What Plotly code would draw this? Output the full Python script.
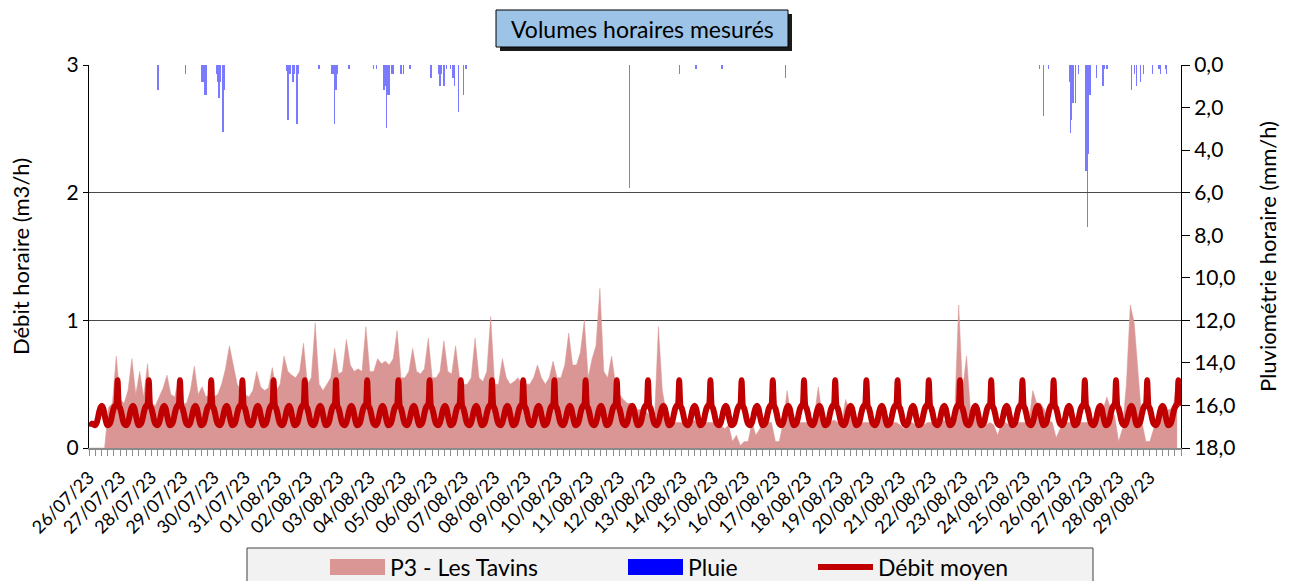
import numpy as np
import pandas as pd
import plotly.graph_objects as go

START = "2023-07-26 00:00"
END = "2023-08-30 00:00"

# P3 - Les Tavins : hourly volumes read at 3-hour steps (00h,03h,...,21h), one row per day
p3_by_day = [
    [0, 0, 0, 0, 0, 0.32, 0.35, 0.72],          # 26/07
    [0.38, 0.35, 0.45, 0.70, 0.42, 0.60, 0.40, 0.66],
    [0.35, 0.33, 0.40, 0.47, 0.57, 0.42, 0.40, 0.55],
    [0.35, 0.35, 0.45, 0.64, 0.42, 0.48, 0.40, 0.42],
    [0.40, 0.42, 0.50, 0.62, 0.80, 0.65, 0.50, 0.45],
    [0.42, 0.40, 0.45, 0.60, 0.48, 0.45, 0.47, 0.63],  # 31/07
    [0.45, 0.50, 0.72, 0.60, 0.57, 0.55, 0.60, 0.82],
    [0.50, 0.55, 0.98, 0.50, 0.45, 0.50, 0.55, 0.78],
    [0.58, 0.60, 0.85, 0.65, 0.60, 0.62, 0.60, 0.95],
    [0.60, 0.60, 0.70, 0.66, 0.68, 0.65, 0.70, 0.92],
    [0.55, 0.55, 0.60, 0.78, 0.60, 0.58, 0.62, 0.86],  # 05/08
    [0.55, 0.55, 0.60, 0.84, 0.60, 0.58, 0.80, 0.55],
    [0.50, 0.50, 0.55, 0.86, 0.55, 0.52, 0.60, 1.03],
    [0.50, 0.50, 0.70, 0.55, 0.50, 0.52, 0.55, 0.50],
    [0.50, 0.50, 0.55, 0.65, 0.55, 0.50, 0.55, 0.68],
    [0.55, 0.55, 0.65, 0.90, 0.65, 0.65, 0.75, 1.00],  # 10/08
    [0.55, 0.70, 0.80, 1.25, 0.60, 0.55, 0.72, 0.50],
    [0.42, 0.38, 0.35, 0.35, 0.30, 0.30, 0.30, 0.28],
    [0.25, 0.22, 0.95, 0.45, 0.28, 0.22, 0.20, 0.20],
    [0.20, 0.20, 0.20, 0.22, 0.20, 0.20, 0.20, 0.20],
    [0.20, 0.20, 0.18, 0.15, 0.18, 0.05, 0.10, 0.02],  # 15/08
    [0.05, 0.05, 0.20, 0.10, 0.15, 0.20, 0.20, 0.20],
    [0.05, 0.05, 0.20, 0.45, 0.25, 0.22, 0.20, 0.20],
    [0.20, 0.20, 0.25, 0.48, 0.25, 0.20, 0.20, 0.22],
    [0.20, 0.20, 0.38, 0.30, 0.25, 0.22, 0.20, 0.20],
    [0.20, 0.20, 0.25, 0.34, 0.25, 0.20, 0.20, 0.20],  # 20/08
    [0.18, 0.15, 0.20, 0.20, 0.18, 0.15, 0.18, 0.20],
    [0.20, 0.18, 0.20, 0.22, 0.20, 0.20, 0.30, 1.12],
    [0.45, 0.72, 0.30, 0.25, 0.20, 0.18, 0.18, 0.20],
    [0.18, 0.10, 0.20, 0.20, 0.18, 0.20, 0.20, 0.20],
    [0.20, 0.20, 0.45, 0.35, 0.35, 0.30, 0.22, 0.20],  # 25/08
    [0.08, 0.15, 0.20, 0.20, 0.20, 0.20, 0.20, 0.20],
    [0.20, 0.20, 0.25, 0.25, 0.30, 0.40, 0.30, 0.25],
    [0.05, 0.15, 0.50, 1.12, 0.98, 0.60, 0.20, 0.05],
    [0.05, 0.15, 0.25, 0.30, 0.30, 0.30, 0.32, 0.55],  # 29/08
]

# Débit moyen : mean hourly profile (00h..23h), repeated every day
debit_profile = [0.31, 0.27, 0.22, 0.19, 0.18, 0.18, 0.20, 0.24,
                 0.29, 0.32, 0.33, 0.31, 0.26, 0.21, 0.18, 0.18,
                 0.19, 0.22, 0.27, 0.31, 0.33, 0.34, 0.53, 0.33]
debit_first_hours = [0.20, 0.19, 0.19]   # start of series (no previous evening)
n_days = 35

# Pluie : hour index since 26/07/23 00:00 and rainfall (mm/h)
rain_hours = [53, 74, 87, 88, 89, 90, 98, 99, 100, 101, 103, 104,
              152, 153, 154, 155, 157, 158, 160, 161, 177, 187, 188, 189, 190, 191, 200,
              219, 221, 227, 228, 229, 230, 231, 233, 234, 240, 242, 247, 263,
              269, 270, 271, 273, 275, 278, 280, 281, 284, 288, 290,
              416, 454, 467, 487, 536,
              731, 734, 738, 754, 755, 756, 757, 759, 761, 767, 768, 769, 770, 775, 780, 781, 783,
              802, 804, 806, 809, 811, 818, 823, 824, 828, 829]
rain_mm = [1.17, 0.4, 0.78, 0.78, 1.4, 1.4, 0.4, 0.78, 1.56, 0.78, 3.16, 1.17,
           0.3, 2.58, 0.4, 0.4, 0.78, 0.4, 2.78, 0.4, 0.2, 0.4, 0.4, 2.78, 1.17, 0.4, 0.2,
           0.2, 0.2, 1.17, 0.97, 2.97, 1.4, 1.4, 0.4, 0.4, 0.4, 0.4, 0.2, 0.6,
           0.4, 1.0, 0.4, 0.97, 0.2, 0.2, 0.6, 0.97, 2.19, 1.4, 0.2,
           5.8, 0.4, 0.2, 0.2, 0.6,
           0.2, 2.4, 0.2, 0.78, 3.18, 2.58, 1.8, 1.8, 0.4, 4.98, 7.6, 4.2, 1.41, 0.6, 0.97, 0.2, 0.2,
           1.17, 0.4, 0.97, 0.78, 0.4, 0.4, 0.2, 0.4, 0.2, 0.4]

# ---------------------------------------------------------------
start = pd.Timestamp(START)
p3_vals = [v for day in p3_by_day for v in day]
p3_t = pd.date_range(start, periods=len(p3_vals), freq="3h")

debit_vals = list(np.tile(debit_profile, n_days))
debit_vals[:len(debit_first_hours)] = debit_first_hours
debit_t = pd.date_range(start, periods=len(debit_vals), freq="1h")

rain_t = [start + pd.Timedelta(hours=h) for h in rain_hours]

FONT = "Lato"
W, H = 1293, 581
L, R, T, B = 89, 112, 65, 133
PW, PH = W - L - R, H - T - B

P3_COL = "#d99694"
RAIN_COL = "#0000ff"
DEBIT_COL = "#c00000"


def px(x):
    return (x - L) / PW


def py(y):
    return (H - B - y) / PH


fig = go.Figure()

fig.add_trace(go.Scatter(
    x=p3_t, y=p3_vals, name="P3 - Les Tavins", mode="lines",
    line=dict(color=P3_COL, width=0.5), fill="tozeroy", fillcolor=P3_COL,
    yaxis="y", legend="legend", hoverinfo="skip"))

fig.add_trace(go.Bar(
    x=rain_t, y=rain_mm, name="Pluie", yaxis="y2", width=3600000,
    marker=dict(color="rgba(40,40,255,0.62)", line=dict(width=0)),
    showlegend=False, hoverinfo="skip"))
# legend entry for Pluie (solid blue swatch)
fig.add_trace(go.Scatter(
    x=[None], y=[None], name="Pluie", yaxis="y2", mode="lines",
    line=dict(color=RAIN_COL, width=0), fill="tozeroy", fillcolor=RAIN_COL,
    legend="legend2"))

fig.add_trace(go.Scatter(
    x=debit_t, y=debit_vals, name="Débit moyen", mode="lines",
    line=dict(color=DEBIT_COL, width=6, shape="spline", smoothing=0.6),
    yaxis="y", legend="legend3", hoverinfo="skip"))

tick_days = pd.date_range(start, periods=n_days, freq="D")

leg_common = dict(orientation="h", xref="paper", yref="paper", yanchor="middle",
                  xanchor="left", bgcolor="rgba(0,0,0,0)", borderwidth=0,
                  itemwidth=55, font=dict(family=FONT, size=23, color="#000"))

fig.update_layout(
    width=W, height=H,
    margin=dict(l=L, r=R, t=T, b=B, autoexpand=False),
    paper_bgcolor="white", plot_bgcolor="white",
    separators=", ",
    font=dict(family=FONT, size=18, color="#000"),
    barmode="overlay", bargap=0,
    xaxis=dict(
        type="date", range=[START, END],
        tickvals=tick_days, tickformat="%d/%m/%y", tickangle=-45,
        tickfont=dict(size=18), ticklabelstandoff=4,
        showgrid=False, showline=True, linecolor="#8c8c8c", linewidth=2,
        ticks="outside", ticklen=6, tickcolor="#8c8c8c", tickwidth=1,
        minor=dict(ticks="outside", ticklen=6, tickcolor="#8c8c8c",
                   dtick=17280000, tick0=START, showgrid=False),
        zeroline=False),
    yaxis=dict(
        range=[0, 3], tickvals=[0, 1, 2, 3], showgrid=True,
        gridcolor="#4a4a4a", gridwidth=1, showline=True, linecolor="#000",
        linewidth=1, ticks="outside", ticklen=5, tickcolor="#000",
        zeroline=False, tickfont=dict(size=21),
        title=dict(text="Débit horaire (m3/h)", font=dict(size=22), standoff=30)),
    yaxis2=dict(
        range=[18, 0], overlaying="y", side="right", tickvals=list(range(0, 19, 2)),
        tickformat=".1f", showgrid=False, showline=True, linecolor="#000",
        linewidth=1, ticks="outside", ticklen=8, tickcolor="#000",
        zeroline=False, tickfont=dict(size=21),
        title=dict(text="Pluviométrie horaire (mm/h)", font=dict(size=22), standoff=26)),
    legend=dict(x=px(325), y=py(567), **leg_common),
    legend2=dict(x=px(623), y=py(567), **leg_common),
    legend3=dict(x=px(813), y=py(567), **leg_common),
    showlegend=True,
)

# legend box
fig.add_shape(type="rect", xref="paper", yref="paper", layer="below",
              x0=px(247), x1=px(1093), y0=py(600), y1=py(548),
              fillcolor="#f2f2f2", line=dict(color="#404040", width=1))
# taller legend swatches behind the legend symbols
for sx, col in ((330, P3_COL), (628, RAIN_COL)):
    fig.add_shape(type="rect", xref="paper", yref="paper", layer="below",
                  x0=px(sx), x1=px(sx + 55), y0=py(575), y1=py(559),
                  fillcolor=col, line=dict(width=0))
# title box with shadow
fig.add_shape(type="rect", xref="paper", yref="paper", layer="above",
              x0=px(500), x1=px(792), y0=py(51), y1=py(14),
              fillcolor="#1a1a1a", line=dict(width=0))
fig.add_shape(type="rect", xref="paper", yref="paper", layer="above",
              x0=px(496), x1=px(788), y0=py(47), y1=py(10),
              fillcolor="#9dc3e6", line=dict(color="#000", width=1))
fig.add_annotation(x=px(642), y=py(29), xref="paper", yref="paper",
                   xanchor="center", yanchor="middle",
                   text="Volumes horaires mesurés", showarrow=False,
                   font=dict(family=FONT, size=23, color="#000"))

fig.write_html("out.html", config={"displayModeBar": False},
               post_script="document.body.style.margin='0';")
